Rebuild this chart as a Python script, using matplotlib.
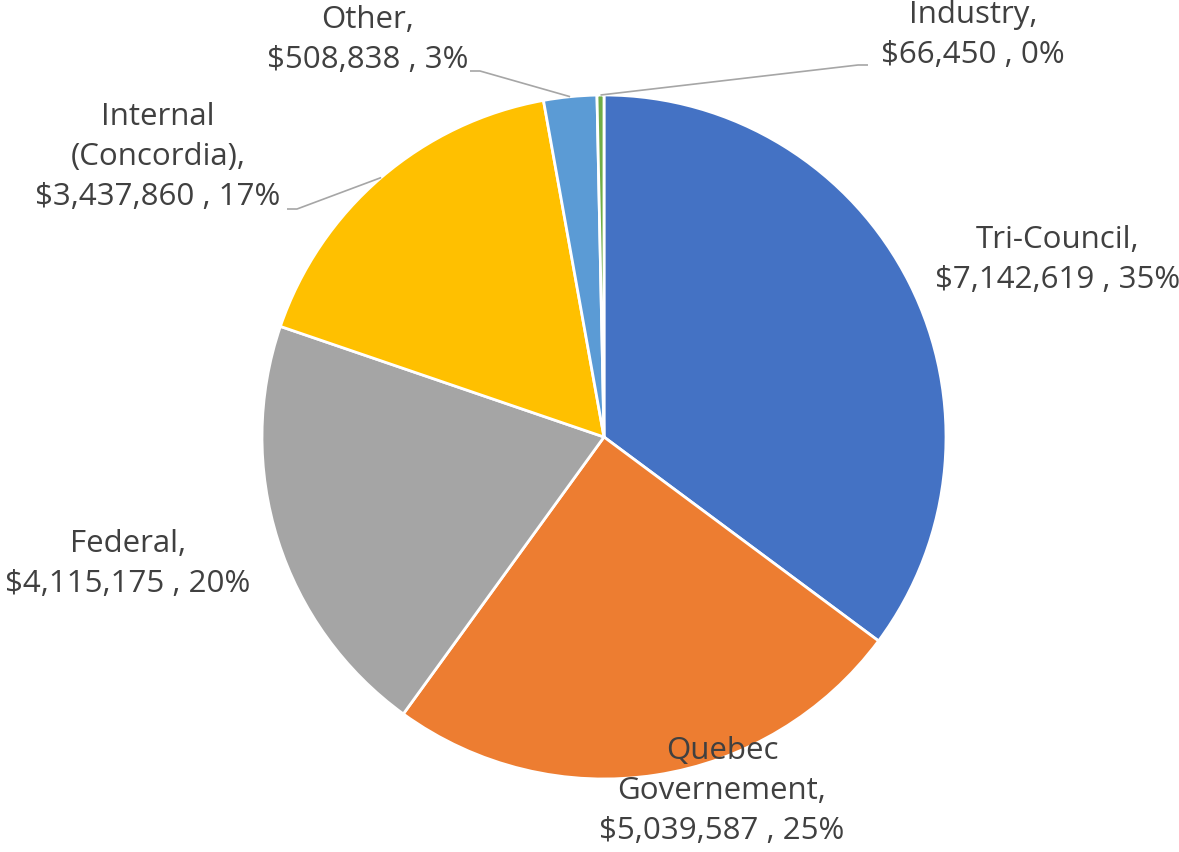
import matplotlib.pyplot as plt
import numpy as np

plt.rcParams['font.family'] = ['Open Sans', 'DejaVu Sans']

names = ['Tri-Council', 'Quebec\nGovernement', 'Federal', 'Internal\n(Concordia)', 'Other', 'Industry']
amounts = [7142619, 5039587, 4115175, 3437860, 508838, 66450]
colors = ['#4472C4', '#ED7D31', '#A5A5A5', '#FFC000', '#5B9BD5', '#70AD47']

W, H = 1179, 853
fig = plt.figure(figsize=(W / 100, H / 100), dpi=100)
ax = fig.add_axes([0, 0, 1, 1])
ax.axis('off')

cx, cy, r = 604, H - 438, 342
wedges, _ = ax.pie(amounts, colors=colors, startangle=90, counterclock=False,
                   center=(cx, cy), radius=r,
                   wedgeprops=dict(edgecolor='white', linewidth=2))
ax.set_xlim(0, W)
ax.set_ylim(0, H)

total = sum(amounts)
pcts = [round(100 * a / total) for a in amounts]
labels = [f'{n},\n${a:,} , {p}%' for n, a, p in zip(names, amounts, pcts)]

# label centres in pixel coords (from top-left)
label_pos = [(1058, 260), (722, 791), (128, 564), (158, 157), (368, 40), (973, 35)]
for lab, (x, y) in zip(labels, label_pos):
    ax.text(x, H - y, lab, ha='center', va='center', fontsize=22.5,
            color='#404040', linespacing=1.45)

# leader lines for the small / far-off labels
leaders = {3: (287, 210, 297), 4: (470, 72, 480), 5: (868, 66, 858)}
for i, (x0, y0, x1) in leaders.items():
    w = wedges[i]
    mid = np.deg2rad((w.theta1 + w.theta2) / 2)
    ex, ey = cx + r * np.cos(mid), cy + r * np.sin(mid)
    ax.plot([x0, x1, ex], [H - y0, H - y0, ey], color='#A6A6A6', lw=1.2,
            solid_capstyle='butt')

fig.savefig('out.png', dpi=100)
